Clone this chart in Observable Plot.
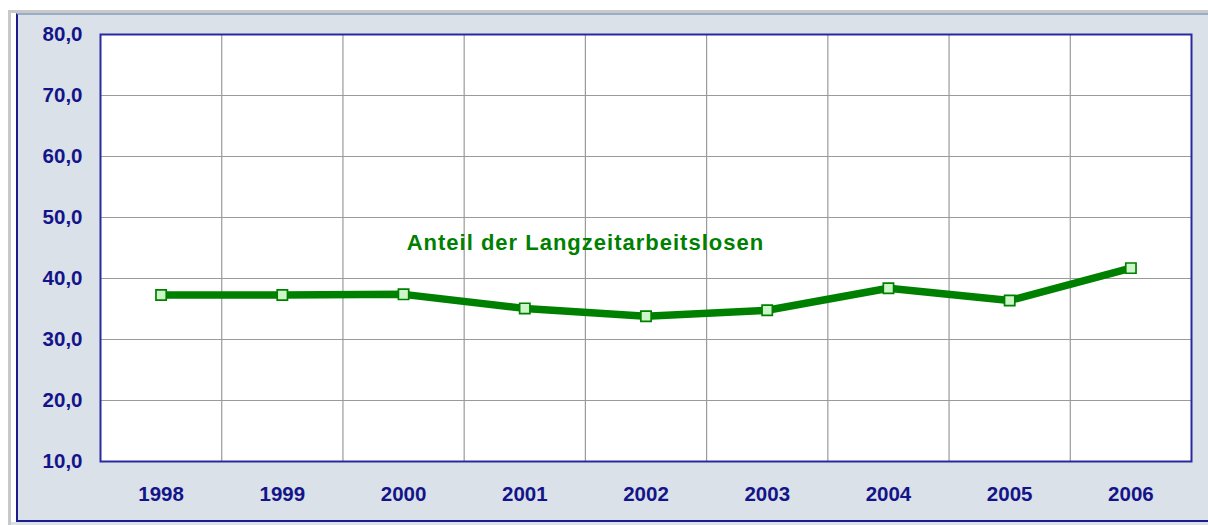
<!DOCTYPE html>
<html>
<head>
<meta charset="utf-8">
<script src="https://cdn.jsdelivr.net/npm/d3@7"></script>
<script src="https://cdn.jsdelivr.net/npm/@observablehq/plot@0.6"></script>
<style>
  html, body { margin: 0; padding: 0; background: #fff; }
  #wrap { position: relative; width: 1208px; height: 525px; overflow: hidden; }
  #outer { position: absolute; left: 8px; top: 10px; right: 0; bottom: 0;
           border-left: 3px solid #c8c8c8; border-top: 3px solid #c8c8c8; background: #fff; }
  #inner { position: absolute; left: 16px; top: 13px; right: 0; bottom: 3px;
           background: #dae1e8; border-left: 2px solid #1c1c8c; border-bottom: 2px solid #1c1c8c;
           border-top: 2px solid #9aabc6; box-sizing: border-box; }
  #under { position: absolute; left: 11px; right: 0; bottom: 0; height: 3px; background: #dae1e8; }
  #chart { position: absolute; left: 0; top: 0; }
</style>
</head>
<body>
<div id="wrap">
  <div id="outer"></div>
  <div id="inner"></div>
  <div id="under"></div>
  <div id="chart"></div>
</div>
<script>
// ---- data ----
const years = ["1998", "1999", "2000", "2001", "2002", "2003", "2004", "2005", "2006"];
const values = [37.3, 37.3, 37.4, 35.1, 33.8, 34.8, 38.4, 36.4, 41.7];
const yTicks = [10, 20, 30, 40, 50, 60, 70, 80];
const seriesLabel = "Anteil der Langzeitarbeitslosen";
// annotation position in data space (category index, value)
const labelPos = [{i: 4.0, v: 45.8, text: seriesLabel}];

// ---- derived table ----
const data = years.map((y, i) => ({i: i + 0.5, year: y, v: values[i]}));
const bandEdges = d3.range(1, years.length);
const bandCenters = years.map((y, i) => i + 0.5);

const navy = "#14148a";
const green = "#008000";

const chart = Plot.plot({
  width: 1208,
  height: 525,
  marginLeft: 100,
  marginRight: 17,
  marginTop: 34,
  marginBottom: 64,
  style: {background: "transparent", fontFamily: "'Liberation Sans', Arial, sans-serif"},
  x: {type: "linear", domain: [0, years.length]},
  y: {domain: [10, 80]},
  marks: [
    Plot.frame({fill: "white"}),
    Plot.gridY(yTicks, {stroke: "#9a9a9a", strokeOpacity: 1, strokeWidth: 1.2}),
    Plot.ruleX(bandEdges, {stroke: "#9a9a9a", strokeWidth: 1.2}),
    Plot.frame({stroke: "#2a2aa0", strokeWidth: 2}),
    Plot.line(data, {x: "i", y: "v", stroke: green, strokeWidth: 7.5, curve: "linear"}),
    Plot.dot(data, {x: "i", y: "v", symbol: "square", r: 5.8, fill: "#ccf5c8", stroke: green, strokeWidth: 1.7}),
    Plot.text(labelPos, {x: "i", y: "v", text: "text", fill: green, fontSize: 22, fontWeight: "bold", textAnchor: "middle", className: "series-label"}),
    Plot.axisY(yTicks, {
      tickSize: 0, tickPadding: 18, label: null,
      tickFormat: d => d.toFixed(1).replace(".", ","),
      fill: navy, fontSize: 20.5, fontWeight: "bold"
    }),
    Plot.axisX(bandCenters, {
      tickSize: 0, tickPadding: 25, label: null,
      tickFormat: d => years[Math.floor(d)],
      fill: navy, fontSize: 20.5, fontWeight: "bold"
    })
  ]
});
chart.querySelectorAll(".series-label text").forEach(t => t.setAttribute("letter-spacing", "1"));
document.getElementById("chart").appendChild(chart);
</script>
</body>
</html>
